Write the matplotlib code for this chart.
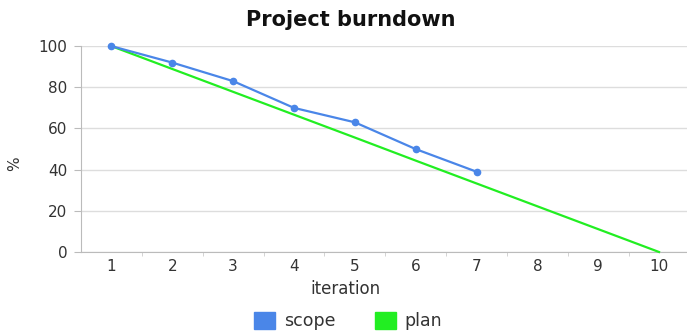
import matplotlib
matplotlib.use("Agg")
import matplotlib.pyplot as plt
from matplotlib.patches import Patch

iterations = [1, 2, 3, 4, 5, 6, 7, 8, 9, 10]
scope_iter = [1, 2, 3, 4, 5, 6, 7]
scope = [100, 92, 83, 70, 63, 50, 39]
plan = [100, 88.9, 77.8, 66.7, 55.6, 44.4, 33.3, 22.2, 11.1, 0]
yticks = [0, 20, 40, 60, 80, 100]

blue = "#4a86e8"
green = "#22ee22"
txt = "#333333"

fig = plt.figure(figsize=(6.87, 3.32), dpi=100)
ax = fig.add_axes([0.118, 0.241, 0.882, 0.620])

ax.plot(iterations, plan, color=green, lw=1.6, zorder=3, clip_on=False)
ax.plot(scope_iter, scope, color=blue, lw=1.6, marker="o", ms=4.5, zorder=4, clip_on=False)

ax.set_xlim(0.5, 10.46)
ax.set_ylim(0, 100)
ax.set_yticks(yticks)
ax.set_xticks(iterations)
ax.set_xticks([i + 0.5 for i in iterations[:-1]], minor=True)
ax.grid(axis="y", color="#dddddd", lw=1)
ax.set_axisbelow(True)
for s in ["top", "right"]:
    ax.spines[s].set_visible(False)
for s in ["left", "bottom"]:
    ax.spines[s].set_color("#bbbbbb")
ax.tick_params(axis="y", length=5, color="#bbbbbb", labelsize=11, labelcolor=txt, pad=5)
ax.tick_params(axis="x", which="major", length=0, labelsize=11, labelcolor=txt, pad=5)
ax.tick_params(axis="x", which="minor", length=3, color="#cccccc")

ax.set_xlabel("iteration", fontsize=12, color=txt)
ax.xaxis.set_label_coords(0.436, -0.178)
ax.xaxis.label.set_va("center")
ax.set_ylabel("%", fontsize=11, color=txt)
ax.yaxis.set_label_coords(-0.109, 0.43)
ax.yaxis.label.set_va("center")
fig.text(0.511, 0.94, "Project burndown", ha="center", va="center",
         fontsize=15, fontweight="bold", color="#111111")

handles = [Patch(color=blue, label="scope"), Patch(color=green, label="plan")]
fig.legend(handles=handles, loc="center", bbox_to_anchor=(0.507, 0.033), ncol=2,
           frameon=False, fontsize=12.5, handlelength=1.2, handleheight=1.1,
           handletextpad=0.5, columnspacing=2.3, labelcolor=txt)

fig.savefig("out.png", dpi=100)
